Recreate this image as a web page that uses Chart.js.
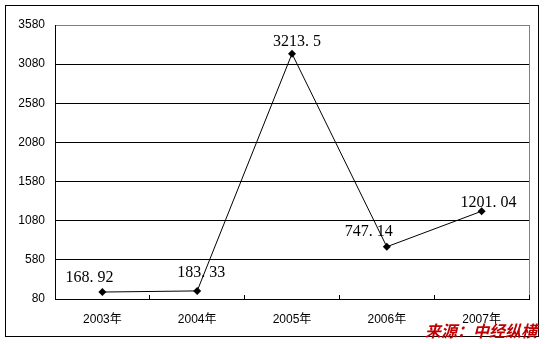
<!DOCTYPE html>
<html>
<head>
<meta charset="utf-8">
<script src="https://cdn.jsdelivr.net/npm/chart.js@4"></script>
<style>
  body { margin: 0; background: #fff; }
  #wrap { width: 546px; height: 344px; }
</style>
</head>
<body>
<div id="wrap"><canvas id="chart" width="546" height="344"></canvas></div>
<script>
const years = ['2003年', '2004年', '2005年', '2006年', '2007年'];
const values = [168.92, 183.33, 3213.5, 747.14, 1201.04];
const yMin = 80;
const yMax = 3580;
const yStep = 500;
const source = '来源：中经纵横';

// frame, gray top/right plot edge, value labels and source note
const decor = {
    id: 'decor',
    beforeDraw(chart) {
        const c = chart.ctx, a = chart.chartArea;
        c.save();
        c.strokeStyle = '#808080';
        c.lineWidth = 1;
        c.strokeRect(Math.round(a.left) + 0.5, Math.round(a.top) + 0.5,
            Math.round(a.right - a.left), Math.round(a.bottom - a.top));
        c.restore();
    },
    afterDraw(chart, args, opts) {
        const c = chart.ctx;
        c.save();
        c.strokeStyle = '#000';
        c.lineWidth = 1;
        c.strokeRect(5.5, 5.5, 533, 331);

        const meta = chart.getDatasetMeta(0);
        c.font = '16px "Liberation Serif"';
        c.fillStyle = '#000';
        c.textAlign = 'center';
        c.textBaseline = 'middle';
        meta.data.forEach((pt, i) => {
            const off = opts.offsets[i];
            const txt = String(values[i]).replace('.', '. ');
            c.fillText(txt, pt.x + off[0], pt.y + off[1]);
        });

        c.font = 'italic bold 16px "Noto Sans CJK SC"';
        c.fillStyle = '#c00000';
        c.textAlign = 'right';
        c.fillText(source, 537, 331);
        c.restore();
    }
};

const ctx = document.getElementById('chart').getContext('2d');
const myChart = new Chart(ctx, {
    type: 'line',
    data: {
        labels: years,
        datasets: [{
            data: values,
            borderColor: '#000',
            backgroundColor: '#000',
            borderWidth: 1,
            pointStyle: 'rectRot',
            pointRadius: 4,
            pointBorderWidth: 0,
            lineTension: 0
        }]
    },
    options: {
        responsive: false,
        animation: false,
        layout: { padding: { left: 0, right: 17, top: 25, bottom: 15 } },
        plugins: {
            legend: { display: false },
            tooltip: { enabled: false },
            decor: { offsets: [[-13, -14], [4, -18], [5, -12], [-18, -15], [7, -8]] }
        },
        scales: {
            x: {
                offset: true,
                grid: { offset: true, drawOnChartArea: false, color: '#000', tickLength: -4 },
                border: { color: '#000' },
                ticks: {
                    color: '#000',
                    padding: 17,
                    font: { family: 'Arial, "Liberation Sans", "Noto Sans CJK SC"', size: 12 }
                },
                afterFit(scale) { scale.height = 30; }
            },
            y: {
                min: yMin,
                max: yMax,
                grid: {
                    drawTicks: false,
                    color: c => c.tick && c.tick.value === yMax ? '#808080' : '#000'
                },
                border: { color: '#000' },
                ticks: {
                    stepSize: yStep,
                    padding: 10,
                    color: '#000',
                    font: { family: 'Arial, "Liberation Sans"', size: 12 },
                    callback: v => String(v)
                },
                afterFit(scale) { scale.width = 55; }
            }
        }
    },
    plugins: [decor]
});
</script>
</body>
</html>
